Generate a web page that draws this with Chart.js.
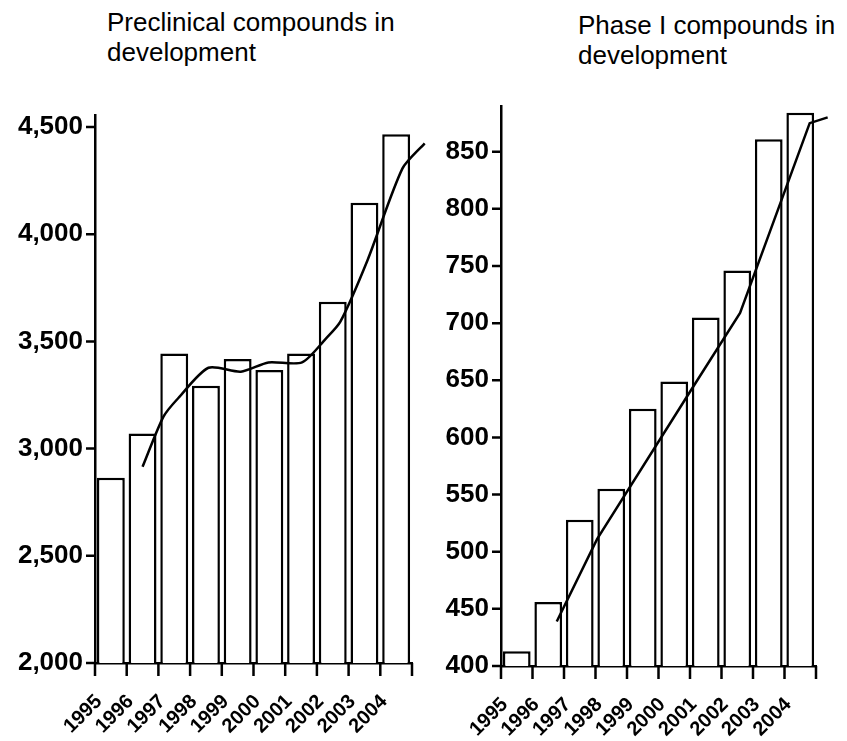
<!DOCTYPE html>
<html>
<head>
<meta charset="utf-8">
<script src="https://cdn.jsdelivr.net/npm/chart.js@4.4.0/dist/chart.umd.min.js"></script>
<style>
  body { margin: 0; background: #fff; }
  #wrap { position: relative; width: 847px; height: 741px; overflow: hidden; }
  canvas { position: absolute; top: 0; }
  .ttl { position: absolute; font-family: "Liberation Sans", Arial, sans-serif; font-size: 26px; line-height: 30px; color: #000; white-space: nowrap; }
</style>
</head>
<body>
<div id="wrap">
  <div class="ttl" style="left:107px; top:7px;">Preclinical compounds in<br>development</div>
  <div class="ttl" style="left:578px; top:10px;">Phase I compounds in<br>development</div>
  <canvas id="preChart" width="430" height="741" style="left:0px;"></canvas>
  <canvas id="phaseChart" width="420" height="741" style="left:427px;"></canvas>
</div>
<script>
const years = ['1995', '1996', '1997', '1998', '1999', '2000', '2001', '2002', '2003', '2004'];

// bar heights
const preclinical = [2864, 3071, 3444, 3293, 3418, 3367, 3444, 3685, 4147, 4466];
const phaseOne = [413, 456, 528, 555, 625, 649, 705, 746, 861, 884];

// trend lines, x in (fractional) years
const preclinicalTrendX = [1996.0, 1996.66, 1997.13, 1998.08, 1999.1, 1999.97, 2001.03, 2001.77, 2002.24, 2003.1, 2004.2, 2004.9];
const preclinicalTrendY = [2915, 3149, 3236, 3377, 3359, 3402, 3402, 3511, 3592, 3880, 4307, 4424];
const phaseOneTrendX = [1996.27, 1997.55, 2000.5, 2002.09, 2004.3, 2004.87];
const phaseOneTrendY = [439, 511, 640, 709, 875, 880];

const preclinicalTicks = [2000, 2500, 3000, 3500, 4000, 4500];
const phaseOneTicks = [400, 450, 500, 550, 600, 650, 700, 750, 800, 850];

// short outward tick marks on both axes
const tickMarks = {
  id: 'tickMarks',
  afterDraw(chart) {
    const { ctx, chartArea } = chart;
    const x = chart.scales.x, y = chart.scales.y;
    ctx.save();
    ctx.strokeStyle = '#000';
    ctx.lineWidth = 2.5;
    ctx.beginPath();
    y.ticks.forEach(t => {
      const py = y.getPixelForValue(t.value);
      ctx.moveTo(chartArea.left - 9, py);
      ctx.lineTo(chartArea.left, py);
    });
    const n = x.ticks.length;
    const half = (x.getPixelForValue(1) - x.getPixelForValue(0)) / 2;
    for (let i = 0; i <= n; i++) {
      const px = i < n ? x.getPixelForValue(i) - half : x.getPixelForValue(n - 1) + half;
      ctx.moveTo(px, chartArea.bottom);
      ctx.lineTo(px, chartArea.bottom + 13);
    }
    ctx.stroke();
    ctx.restore();
  }
};

function makeChart(id, bars, trendX, trendY, tickVals, yMin, yMax, opts) {
  const ctx = document.getElementById(id);
  return new Chart(ctx, {
    type: 'bar',
    data: {
      labels: years,
      datasets: [{
        type: 'line',
        data: trendX.map((x, i) => ({ x: x, y: trendY[i] })),
        xAxisID: 'xl',
        borderColor: '#000',
        borderWidth: 2.5,
        pointRadius: 0,
        tension: opts.tension,
        fill: false,
        clip: false
      }, {
        data: bars,
        grouped: false,
        backgroundColor: '#fff',
        borderColor: '#000',
        borderWidth: 2.5,
        categoryPercentage: 0.88,
        barPercentage: 1
      }]
    },
    plugins: [tickMarks],
    options: {
      responsive: false,
      animation: false,
      plugins: { legend: { display: false }, tooltip: { enabled: false } },
      layout: { padding: { left: 0, right: opts.right, top: opts.top, bottom: 0 } },
      scales: {
        x: {
          afterFit: s => { s.height = opts.xh; },
          grid: { drawOnChartArea: false, color: '#000', tickColor: 'rgba(0,0,0,0)', tickLength: 12 },
          border: { color: '#000', width: 2.5 },
          ticks: {
            color: '#000',
            autoSkip: false,
            maxRotation: 45,
            minRotation: 45,
            padding: 15,
            labelOffset: -12,
            font: { family: 'Liberation Sans', size: 20, weight: 'bold' }
          }
        },
        xl: {
          type: 'linear',
          display: false,
          offset: false,
          min: 1994.5,
          max: 2004.5
        },
        y: {
          min: yMin,
          max: yMax,
          afterFit: s => { s.width = opts.yw; },
          afterBuildTicks: s => { s.ticks = tickVals.map(v => ({ value: v })); },
          grid: { drawOnChartArea: false, color: '#000', tickColor: 'rgba(0,0,0,0)', tickLength: 9 },
          border: { color: '#000', width: 2.5 },
          ticks: {
            color: '#000',
            padding: 3,
            font: { family: 'Liberation Sans', size: 26, weight: 'bold' },
            callback: v => v.toLocaleString('en-US')
          }
        }
      }
    }
  });
}

makeChart('preChart', preclinical, preclinicalTrendX, preclinicalTrendY, preclinicalTicks, 2000, 4556,
  { yw: 95, right: 18, top: 115, xh: 78, tension: 0.25 });
makeChart('phaseChart', phaseOne, phaseOneTrendX, phaseOneTrendY, phaseOneTicks, 400, 890,
  { yw: 74, right: 31, top: 106, xh: 75, tension: 0 });
</script>
</body>
</html>
